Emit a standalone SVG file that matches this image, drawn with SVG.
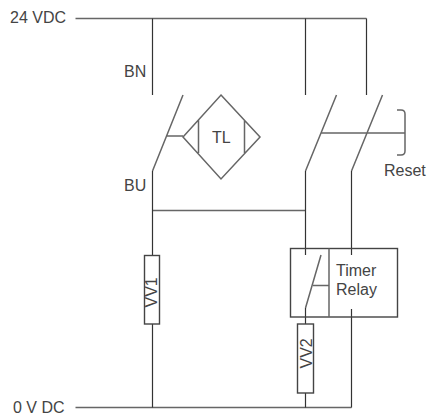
<svg xmlns="http://www.w3.org/2000/svg" width="427" height="416" viewBox="0 0 427 416">
<style>
text{font-family:"Liberation Sans",Arial,sans-serif;font-size:16px;fill:#444}
.w{fill:none;stroke:#333;stroke-width:1.2}
.g{fill:none;stroke:#666;stroke-width:1.5}
.b{fill:#fff;stroke:#444;stroke-width:1.4}
</style>
<rect width="427" height="416" fill="#fff"/>
<g id="connectors">
<path class="g" d="M75.500 18.500H366.500M75.500 407.500H351.500M152.500 210.500H305.500"/>
<path class="w" d="M152.500 18.500V95M305.500 18.500V95M366.500 18.500V95M152.500 171V407.500M305.500 171V255M351.500 171V255M305.500 308V407.500M351.500 309V407.500"/>
<path class="g" d="M183 95L152.500 171M167 136H183M336.500 95L305.500 171M382.500 95L351.500 171M321 255L305.500 308M313 285.500H329M321 133H405"/>
<path class="g" d="M397 110H401Q405 110 405 114V151Q405 155 401 155H397"/>
</g>
<g id="tl">
<path class="g" d="M221 95L260 137L221 179L183 137ZM198.500 120V153M244.500 120V153"/>
<text x="212" y="143">TL</text>
</g>
<g id="timer-relay">
<rect class="b" x="290.500" y="248.500" width="107" height="68.500" style="fill:none"/>
<path class="g" d="M329 248.500V317"/>
<text x="336" y="276">Timer</text>
<text x="336" y="295">Relay</text>
</g>
<g id="vv1">
<rect class="b" x="144.500" y="255.500" width="15" height="68.500"/>
<text transform="translate(157 307.500) rotate(-90)">VV1</text>
</g>
<g id="vv2">
<rect class="b" x="297.500" y="324" width="16" height="69"/>
<text transform="translate(311.500 368.500) rotate(-90)">VV2</text>
</g>
<g id="labels">
<text x="10" y="23">24 VDC</text>
<text x="124" y="77">BN</text>
<text x="124" y="191">BU</text>
<text x="13" y="413">0 V DC</text>
<text x="384" y="176">Reset</text>
</g>
</svg>
